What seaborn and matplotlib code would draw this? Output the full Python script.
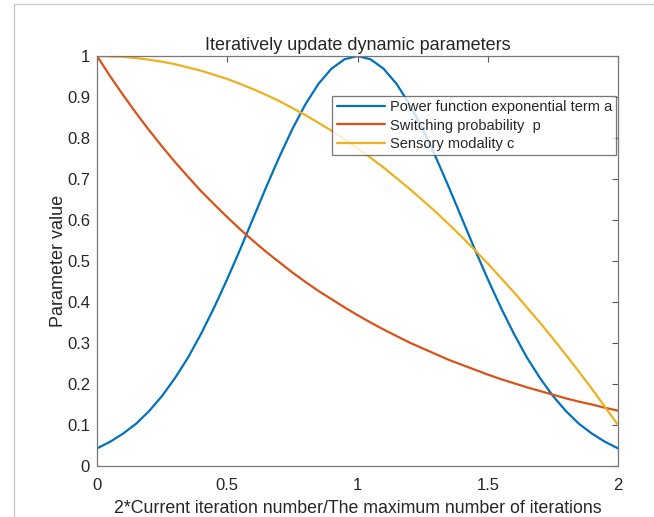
import numpy as np
import pandas as pd
import seaborn as sns
import matplotlib.pyplot as plt
from matplotlib.lines import Line2D

# x positions (2*iter/max_iter), read every 0.05
x_vals = [0.00, 0.05, 0.10, 0.15, 0.20, 0.25, 0.30, 0.35, 0.40, 0.45,
          0.50, 0.55, 0.60, 0.65, 0.70, 0.75, 0.80, 0.85, 0.90, 0.95,
          1.00, 1.05, 1.10, 1.15, 1.20, 1.25, 1.30, 1.35, 1.40, 1.45,
          1.50, 1.55, 1.60, 1.65, 1.70, 1.75, 1.80, 1.85, 1.90, 1.95, 2.00]

power_a = [0.043, 0.059, 0.079, 0.103, 0.134, 0.171, 0.215, 0.265, 0.323, 0.387,
           0.456, 0.529, 0.605, 0.681, 0.754, 0.822, 0.882, 0.932, 0.969, 0.992,
           1.000, 0.992, 0.969, 0.932, 0.882, 0.822, 0.754, 0.681, 0.605, 0.529,
           0.456, 0.387, 0.323, 0.265, 0.215, 0.171, 0.134, 0.103, 0.079, 0.059, 0.043]
switch_p = [1.000, 0.951, 0.905, 0.861, 0.819, 0.779, 0.741, 0.705, 0.670, 0.638,
            0.607, 0.577, 0.549, 0.522, 0.497, 0.472, 0.449, 0.427, 0.407, 0.387,
            0.368, 0.350, 0.333, 0.317, 0.301, 0.287, 0.273, 0.259, 0.247, 0.235,
            0.223, 0.212, 0.202, 0.192, 0.183, 0.174, 0.165, 0.157, 0.150, 0.142, 0.135]
sensory_c = [1.000, 0.999, 0.998, 0.995, 0.991, 0.986, 0.980, 0.972, 0.964, 0.954,
             0.944, 0.932, 0.919, 0.905, 0.890, 0.873, 0.856, 0.837, 0.818, 0.797,
             0.775, 0.752, 0.728, 0.702, 0.676, 0.648, 0.620, 0.590, 0.559, 0.527,
             0.494, 0.459, 0.424, 0.387, 0.350, 0.311, 0.271, 0.230, 0.188, 0.144, 0.100]

labels = ['Power function exponential term a', 'Switching probability  p', 'Sensory modality c']
colors = ['#0072BD', '#D95319', '#EDB120']

sns.set_style('white')
plt.rcParams['font.family'] = ['Liberation Sans', 'DejaVu Sans']

fig = plt.figure(figsize=(6.54, 5.17), dpi=100)
ax = fig.add_axes([97 / 654, 1 - 466 / 517, 521 / 654, 410 / 517])

for ys, lab, col in zip([power_a, switch_p, sensory_c], labels, colors):
    df = pd.DataFrame({'x': x_vals, 'y': ys})
    sns.lineplot(data=df, x='x', y='y', ax=ax, color=col, linewidth=1.6, label=lab)

ax.set_xlim(0, 2)
ax.set_ylim(0, 1)
ax.set_xticks([0, 0.5, 1, 1.5, 2])
ax.set_xticklabels(['0', '0.5', '1', '1.5', '2'])
ax.set_yticks(np.round(np.arange(0, 1.01, 0.1), 1))
ax.set_yticklabels(['0', '0.1', '0.2', '0.3', '0.4', '0.5', '0.6', '0.7', '0.8', '0.9', '1'])
ax.tick_params(direction='in', length=4, width=0.8, color='#555555', labelsize=12,
               labelcolor='#262626', top=True, right=True)
ax.tick_params(axis='x', pad=9)
ax.tick_params(axis='y', pad=5)
for sp in ax.spines.values():
    sp.set_color('#777777')
    sp.set_linewidth(0.9)

ax.set_xlabel('2*Current iteration number/The maximum number of iterations', fontsize=12.8,
              color='#262626', labelpad=5)
ax.set_ylabel('Parameter value', fontsize=13, color='#262626', labelpad=0)
ax.set_title('Iteratively update dynamic parameters', fontsize=13, color='#262626', pad=4)

leg = ax.legend(loc='upper right', bbox_to_anchor=(0.997, 0.903), fontsize=10.5, frameon=True,
                fancybox=False, edgecolor='#555555', borderpad=0.3, labelspacing=0.3,
                handlelength=3.3, handletextpad=0.35, borderaxespad=0)
leg.get_frame().set_linewidth(0.9)

# light frame of the original screenshot
fig.add_artist(Line2D([14 / 654, 1], [1 - 4 / 517, 1 - 4 / 517], color='#c8c8c8', linewidth=1))
fig.add_artist(Line2D([14 / 654, 14 / 654], [0, 1 - 4 / 517], color='#c8c8c8', linewidth=1))

fig.savefig('out.png', dpi=100)
